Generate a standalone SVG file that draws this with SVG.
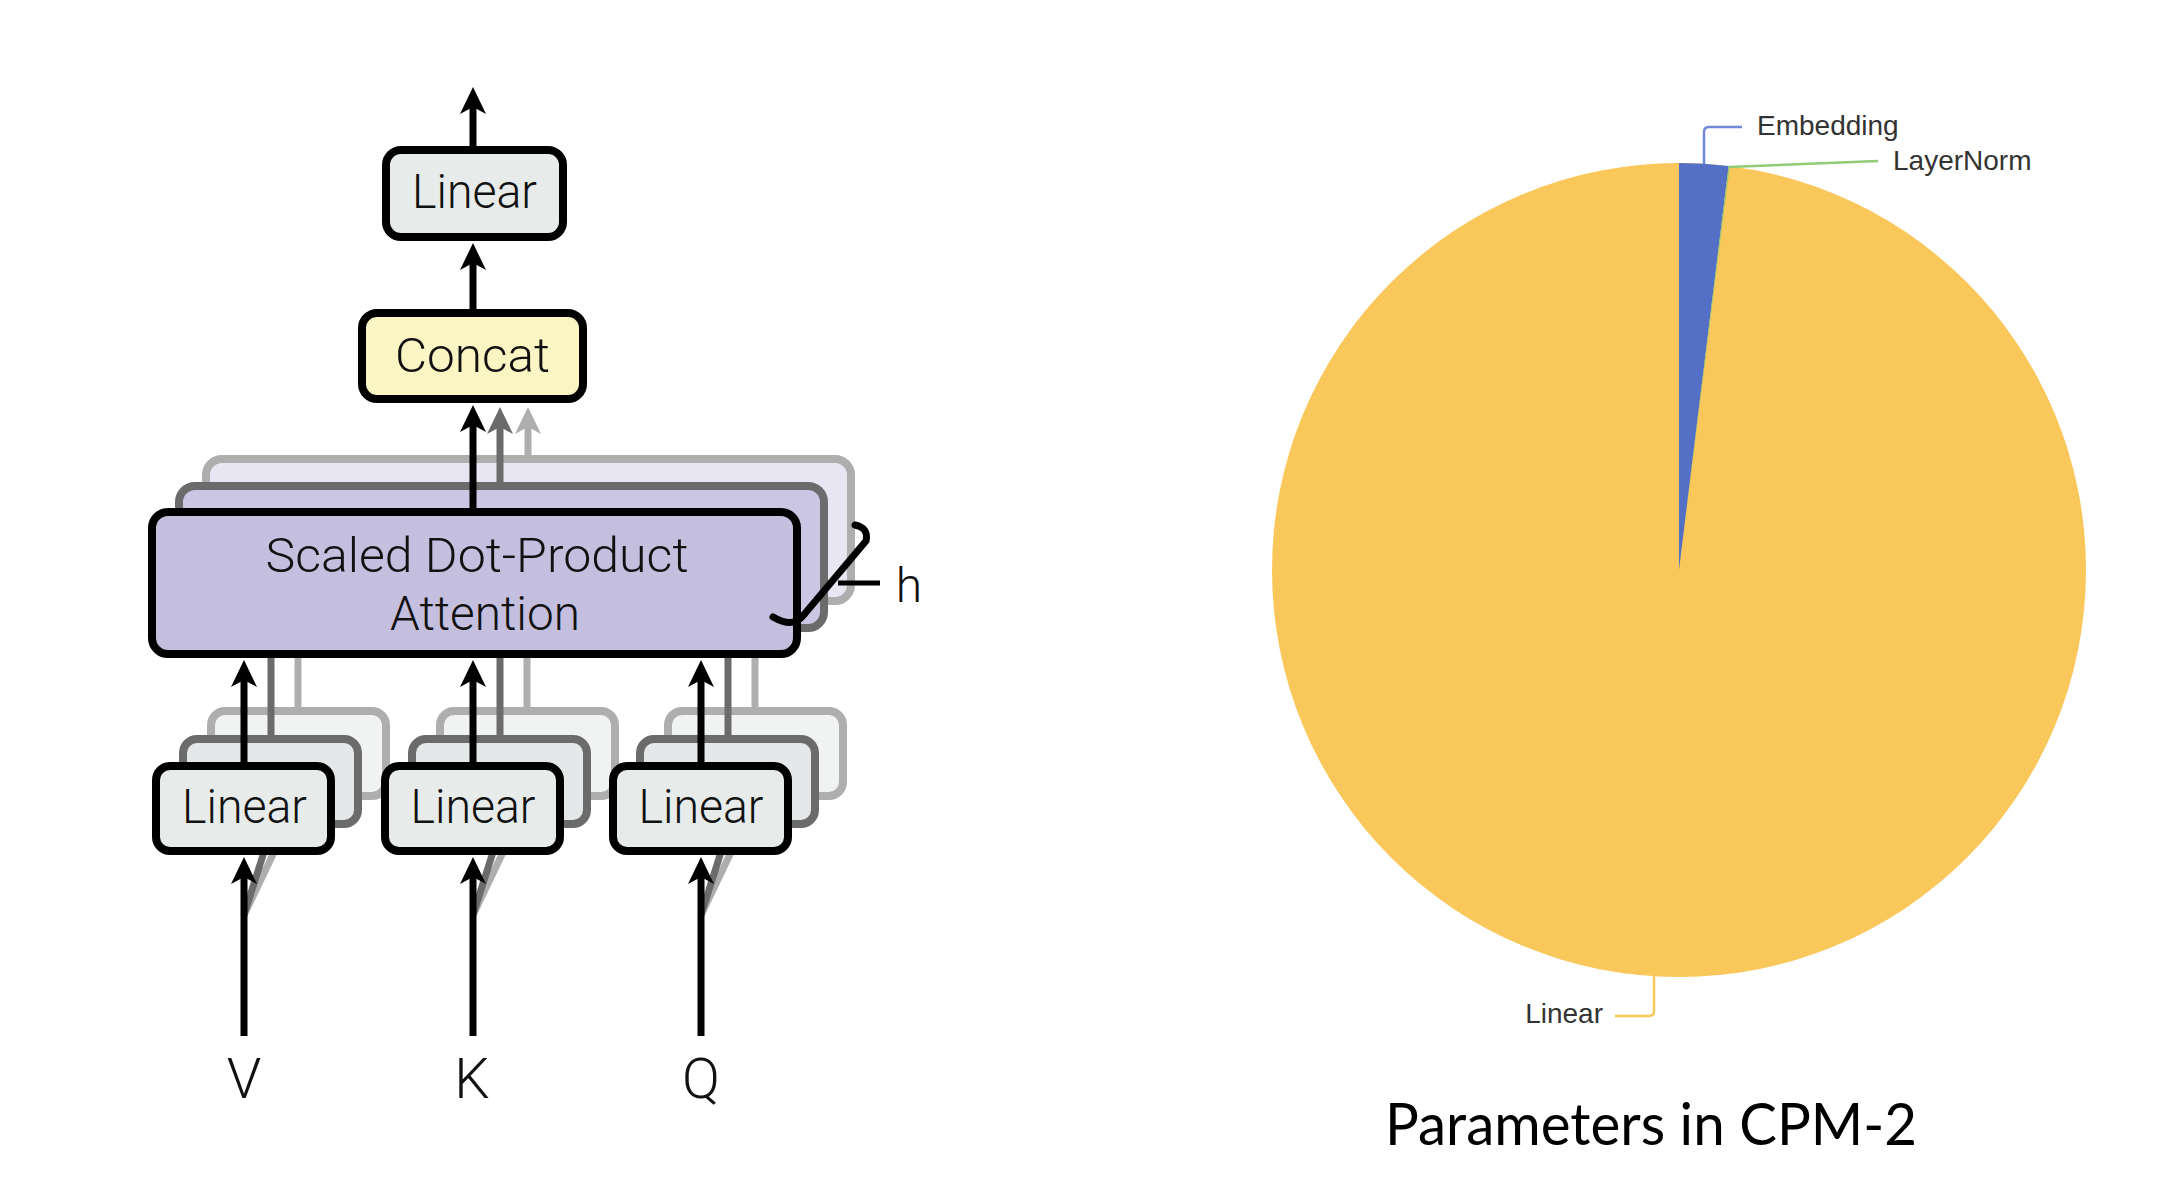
<svg xmlns="http://www.w3.org/2000/svg" width="2160" height="1202" viewBox="0 0 2160 1202">
<style>
.lbl{font-family:Roboto,"Liberation Sans",Arial,sans-serif;font-weight:300;fill:#111;text-anchor:middle}
.big{font-size:48px}
.io{font-size:56px}
.box{stroke:#000;stroke-width:8}
.lin{fill:#E7EBEA}
.l2{fill:#E4E8E8;stroke:#6B6B6B;stroke-width:8}
.l3{fill:#F1F3F3;stroke:#AEAEAE;stroke-width:8}
.a2{fill:#CBC6E3;stroke:#6B6B6B;stroke-width:8}
.a3{fill:#E8E6F2;stroke:#AEAEAE;stroke-width:8}
.k{stroke:#000;stroke-width:7;fill:none}
.g2{stroke:#6B6B6B;stroke-width:7;fill:none}
.g3{stroke:#AEAEAE;stroke-width:7;fill:none}
.pl{font-family:"Liberation Sans",Arial,sans-serif;font-size:28px;fill:#333}
</style>
<defs>
<marker id="ak" viewBox="-30 -15 34 30" refX="-14" refY="0" markerWidth="34" markerHeight="30" markerUnits="userSpaceOnUse" orient="auto"><path d="M0,0 L-27,-13 L-20,0 L-27,13 Z" fill="#000"/></marker>
<marker id="a2" viewBox="-30 -15 34 30" refX="-14" refY="0" markerWidth="34" markerHeight="30" markerUnits="userSpaceOnUse" orient="auto"><path d="M0,0 L-27,-13 L-20,0 L-27,13 Z" fill="#6B6B6B"/></marker>
<marker id="a3" viewBox="-30 -15 34 30" refX="-14" refY="0" markerWidth="34" markerHeight="30" markerUnits="userSpaceOnUse" orient="auto"><path d="M0,0 L-27,-13 L-20,0 L-27,13 Z" fill="#AEAEAE"/></marker>
</defs>
<rect width="2160" height="1202" fill="#fff"/>

<!-- head layer 3 -->
<g id="head-layer-3">
<rect class="a3" x="206" y="459" width="645" height="142" rx="16"/>
<rect class="l3" x="211" y="711" width="175" height="85" rx="14"/>
<rect class="l3" x="440" y="711" width="175" height="85" rx="14"/>
<rect class="l3" x="668" y="711" width="175" height="85" rx="14"/>
</g>
<g id="head-layer-3-connectors">
<path class="g3" d="M528,457 L528,421" marker-end="url(#a3)"/>
<path class="g3" d="M298,707 L298,600"/>
<path class="g3" d="M527,707 L527,600"/>
<path class="g3" d="M755,707 L755,600"/>
<path class="g3" d="M244,915 L299,800"/>
<path class="g3" d="M473,915 L528,800"/>
<path class="g3" d="M701,915 L756,800"/>
</g>
<!-- head layer 2 -->
<g id="head-layer-2">
<rect class="a2" x="179" y="486" width="645" height="142" rx="16"/>
<rect class="l2" x="183" y="739" width="175" height="85" rx="14"/>
<rect class="l2" x="412" y="739" width="175" height="85" rx="14"/>
<rect class="l2" x="640" y="739" width="175" height="85" rx="14"/>
</g>
<g id="head-layer-2-connectors">
<path class="g2" d="M500,483 L500,421" marker-end="url(#a2)"/>
<path class="g2" d="M271,735 L271,630"/>
<path class="g2" d="M500,735 L500,630"/>
<path class="g2" d="M728,735 L728,630"/>
<path class="g2" d="M244,915 L271,830"/>
<path class="g2" d="M473,915 L500,830"/>
<path class="g2" d="M701,915 L728,830"/>
</g>

<!-- front nodes -->
<g id="node-attention">
<rect class="box" x="152" y="512" width="645" height="142" rx="16" fill="#C4BFDE"/>
<text class="lbl big" x="477" y="572" textLength="423" lengthAdjust="spacingAndGlyphs">Scaled Dot-Product</text>
<text class="lbl big" x="485" y="630" textLength="190" lengthAdjust="spacingAndGlyphs">Attention</text>
</g>
<g id="node-concat">
<rect class="box" x="362" y="313" width="221" height="86" rx="15" fill="#FBF5C4"/>
<text class="lbl big" x="472.5" y="372" textLength="155" lengthAdjust="spacingAndGlyphs">Concat</text>
</g>
<g id="node-linear-out">
<rect class="box lin" x="386" y="150" width="177" height="87" rx="15"/>
<text class="lbl big" x="474.5" y="208" textLength="125" lengthAdjust="spacingAndGlyphs">Linear</text>
</g>
<g id="node-linear-v">
<rect class="box lin" x="156" y="766" width="175" height="85" rx="14"/>
<text class="lbl big" x="244.5" y="823" textLength="125" lengthAdjust="spacingAndGlyphs">Linear</text>
</g>
<g id="node-linear-k">
<rect class="box lin" x="385" y="766" width="175" height="85" rx="14"/>
<text class="lbl big" x="473" y="823" textLength="125" lengthAdjust="spacingAndGlyphs">Linear</text>
</g>
<g id="node-linear-q">
<rect class="box lin" x="613" y="766" width="175" height="85" rx="14"/>
<text class="lbl big" x="701" y="823" textLength="125" lengthAdjust="spacingAndGlyphs">Linear</text>
</g>

<g id="connectors">
<path class="k" d="M473,146 L473,101" marker-end="url(#ak)"/>
<path class="k" d="M473,309 L473,257" marker-end="url(#ak)"/>
<path class="k" d="M473,508 L473,419" marker-end="url(#ak)"/>
<path class="k" d="M244,762 L244,674" marker-end="url(#ak)"/>
<path class="k" d="M473,762 L473,674" marker-end="url(#ak)"/>
<path class="k" d="M701,762 L701,674" marker-end="url(#ak)"/>
<path class="k" d="M244,1036 L244,871" marker-end="url(#ak)"/>
<path class="k" d="M473,1036 L473,871" marker-end="url(#ak)"/>
<path class="k" d="M701,1036 L701,871" marker-end="url(#ak)"/>
</g>

<g id="bracket-h">
<path d="M855,525 Q869,528 866,541 L802,617 Q792,628 773,617" fill="none" stroke="#000" stroke-width="7" stroke-linecap="round"/>
<path d="M838,583 L880,583" stroke="#000" stroke-width="5"/>
<text class="lbl" x="909" y="602" font-size="48">h</text>
</g>

<g id="inputs">
<text class="lbl io" x="244" y="1098">V</text>
<text class="lbl io" x="472" y="1098">K</text>
<text class="lbl io" x="701" y="1098">Q</text>
</g>

<!-- pie chart -->
<g id="pie">
<circle cx="1679" cy="570" r="407" fill="#F9C75A"/>
<path d="M1679,570 L1679,163 A407,407 0 0,1 1728.6,166 Z" fill="#5470C6"/>
<path d="M1679,570 L1728.6,166 A407,407 0 0,1 1729.7,166.2 Z" fill="#91CC75"/>
</g>
<g id="pie-labels">
<path d="M1704,164 L1704,132 Q1704,127 1709,127 L1742,127" fill="none" stroke="#7088D6" stroke-width="2.5"/>
<path d="M1729,167 L1878,161" fill="none" stroke="#91CC75" stroke-width="2.5"/>
<path d="M1654,976 L1654,1011 Q1654,1016 1649,1016 L1615,1016" fill="none" stroke="#F9C75A" stroke-width="2.5"/>
<text class="pl" x="1757" y="135">Embedding</text>
<text class="pl" x="1893" y="170">LayerNorm</text>
<text class="pl" x="1603" y="1023" text-anchor="end">Linear</text>
</g>
<text id="title" x="1385" y="1145" font-family="Lato,'Open Sans',sans-serif" font-size="59" fill="#000" textLength="532" lengthAdjust="spacingAndGlyphs">Parameters in CPM-2</text>
</svg>
